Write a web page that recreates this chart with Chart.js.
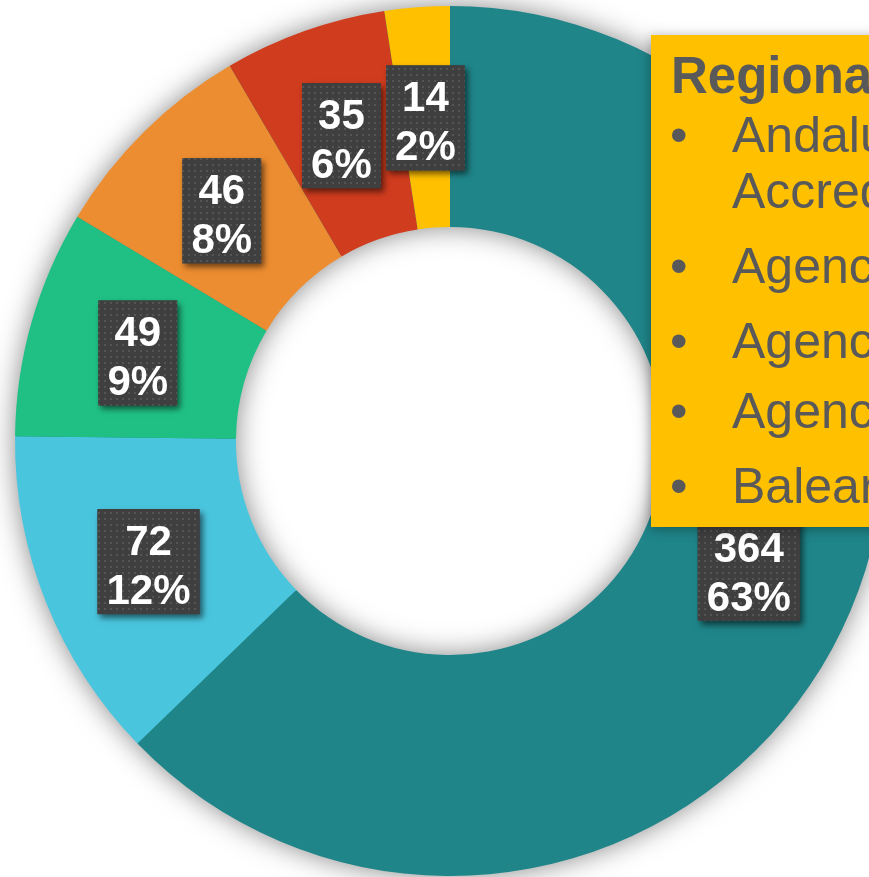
<!DOCTYPE html>
<html>
<head>
<meta charset="utf-8">
<script src="https://cdn.jsdelivr.net/npm/chart.js@4.4.1/dist/chart.umd.min.js"></script>
<style>
  html, body { margin: 0; padding: 0; background: #ffffff; width: 869px; height: 877px; overflow: hidden; }
  #wrap { position: absolute; left: 0; top: 0; width: 900px; height: 882px; }
  #note {
    position: absolute; left: 651px; top: 35px; width: 420px; height: 492px;
    background: #FFC000; box-shadow: 0 2px 12px rgba(0,0,0,0.35);
    font-family: "Liberation Sans", Arial, sans-serif; color: #595959;
  }
  #note div { position: absolute; white-space: nowrap; line-height: 1; }
  #note .title { font-weight: bold; font-size: 51px; left: 20px; top: 14.8px; }
  #note .bul { font-size: 50px; left: 19px; }
  #note .txt { font-size: 50px; left: 81px; }
</style>
</head>
<body>
<div id="wrap"><canvas id="c" width="900" height="882"></canvas></div>
<div id="note">
  <div class="title">Regional agencies</div>
  <div class="bul" style="top:74.7px">•</div>
  <div class="txt" style="top:74.7px">Andalusian Agency of Knowledge –</div>
  <div class="txt" style="top:130.7px">Accreditation Directorate</div>
  <div class="bul" style="top:205.7px">•</div>
  <div class="txt" style="top:205.7px">Agency for Quality of the Basque University System</div>
  <div class="bul" style="top:280.7px">•</div>
  <div class="txt" style="top:280.7px">Agency for the Quality of the University System of Castilla y León</div>
  <div class="bul" style="top:350.7px">•</div>
  <div class="txt" style="top:350.7px">Agency for University Quality of Catalonia</div>
  <div class="bul" style="top:425.7px">•</div>
  <div class="txt" style="top:425.7px">Balearic Islands Quality Agency</div>
</div>
<script>
const categories = ['Regional agencies', 'Category B', 'Category C', 'Category D', 'Category E', 'Category F'];
const values = [364, 72, 49, 46, 35, 14];
const percentLabels = ['63%', '12%', '9%', '8%', '6%', '2%'];
const colors = ['#1F8589', '#4AC5DE', '#20C085', '#ED8D31', '#D03C1E', '#FFC000'];

// dotted pattern for label boxes
const tile = document.createElement('canvas');
tile.width = 6; tile.height = 6;
const tctx = tile.getContext('2d');
tctx.fillStyle = '#3F3F3F'; tctx.fillRect(0, 0, 6, 6);
tctx.fillStyle = '#555555'; tctx.fillRect(2, 2, 2, 2);

const ringShadow = {
  id: 'ringShadow',
  beforeDatasetsDraw(chart) {
    const arc = chart.getDatasetMeta(0).data[0];
    if (!arc) return;
    const { x, y, outerRadius, innerRadius } = arc.getProps(['x', 'y', 'outerRadius', 'innerRadius'], true);
    const ctx = chart.ctx;
    ctx.save();
    ctx.shadowColor = 'rgba(0,0,0,0.5)';
    ctx.shadowBlur = 28;
    ctx.beginPath();
    ctx.arc(x, y, outerRadius - 1, 0, Math.PI * 2);
    ctx.arc(x, y, innerRadius + 1, 0, Math.PI * 2, true);
    ctx.fillStyle = colors[0];
    ctx.fill('evenodd');
    ctx.restore();
  }
};

const boxLabels = {
  id: 'boxLabels',
  afterDatasetsDraw(chart) {
    const ctx = chart.ctx;
    const meta = chart.getDatasetMeta(0);
    const pattern = ctx.createPattern(tile, 'repeat');
    ctx.save();
    ctx.font = 'bold 42px "Liberation Sans", Arial, sans-serif';
    meta.data.forEach((arc, i) => {
      const p = arc.tooltipPosition(true);
      const l1 = String(values[i]);
      const l2 = percentLabels[i];
      const w = Math.max(ctx.measureText(l1).width, ctx.measureText(l2).width) + 18;
      const h = 105;
      const bx = p.x - w / 2, by = p.y - 52;
      ctx.save();
      ctx.shadowColor = 'rgba(0,0,0,0.55)';
      ctx.shadowBlur = 6;
      ctx.shadowOffsetX = 3;
      ctx.shadowOffsetY = 4;
      ctx.fillStyle = '#3F3F3F';
      ctx.fillRect(bx, by, w, h);
      ctx.restore();
      ctx.fillStyle = pattern;
      ctx.fillRect(bx, by, w, h);
      ctx.fillStyle = '#FFFFFF';
      ctx.textAlign = 'center';
      ctx.textBaseline = 'alphabetic';
      ctx.fillText(l1, p.x, p.y - 6);
      ctx.fillText(l2, p.x, p.y + 43);
    });
    ctx.restore();
  }
};

new Chart(document.getElementById('c'), {
  type: 'doughnut',
  data: {
    labels: categories,
    datasets: [{
      data: values,
      backgroundColor: colors,
      borderWidth: 0,
      hoverOffset: 0
    }]
  },
  options: {
    responsive: false,
    animation: false,
    radius: 435,
    cutout: 217,
    layout: { padding: 0 },
    plugins: {
      legend: { display: false },
      tooltip: { enabled: false },
      title: { display: false }
    }
  },
  plugins: [ringShadow, boxLabels]
});
</script>
</body>
</html>
